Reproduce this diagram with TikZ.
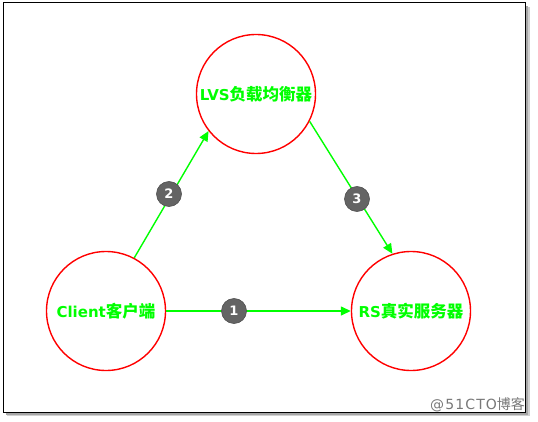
\documentclass[tikz,border=0pt]{standalone}
\usepackage{fontspec}
\usetikzlibrary{arrows.meta}
\newfontfamily\latinsans{DejaVu Sans}
\newfontfamily\cjksans{Noto Sans CJK SC}
\newcommand{\roletext}[2]{{\latinsans\bfseries #1}{\cjksans\bfseries\fontsize{16.5}{17}\selectfont #2}}

\begin{document}
\begin{tikzpicture}[x=1pt,y=1pt,line width=0.4pt]
\definecolor{figgreen}{RGB}{0,255,0}
\definecolor{figred}{RGB}{255,0,0}
\definecolor{figgrey}{RGB}{100,100,100}
\definecolor{figmark}{RGB}{120,120,120}
\providecommand{\ffift}{\fontsize{15}{17}\selectfont}
\tikzset{role/.style={circle,draw=figred,line width=1.4pt,minimum size=119pt,inner sep=0pt,text=figgreen,font=\ffift},badge/.style={circle,fill=figgrey,draw=figgrey!80!black,line width=0.6pt,minimum size=25pt,inner sep=0pt,text=white,font=\latinsans\bfseries\fontsize{13}{13}\selectfont},flow/.style={-{Triangle[length=10pt,width=9pt]},draw=figgreen,line width=1.4pt}}
\useasboundingbox (0,0) rectangle (538,421);
% frame with shadow
\fill[black!18] (7,5) rectangle (530,414);
\fill[black!35] (6,6) rectangle (528,415);
\draw[black,line width=1pt,fill=white] (3,418) rectangle (525,9);
% the three parties
\node[role] (client) at (106,110) {\roletext{Client}{客户端}};
\node[role] (lvs) at (256,327) {\roletext{LVS}{负载均衡器}};
\node[role] (rs) at (411,110) {\roletext{RS}{真实服务器}};
\draw[flow] (client) -- (rs);
\draw[flow] (client.62.6) -- (lvs.218.8);
\draw[flow] (lvs.-27.6) -- (rs.108);
\node[badge] (b1) at (234,110) {1};
\node[badge] (b2) at (169,227) {2};
\node[badge] (b3) at (357,222) {3};
\node[anchor=base west,inner sep=0pt,fill=white,text=figmark,font=\fontsize{14}{14}\selectfont] (mark) at (430,12) {{\latinsans\addfontfeature{LetterSpace=8}@51CTO}{\cjksans 博客}};
\end{tikzpicture}
\end{document}
